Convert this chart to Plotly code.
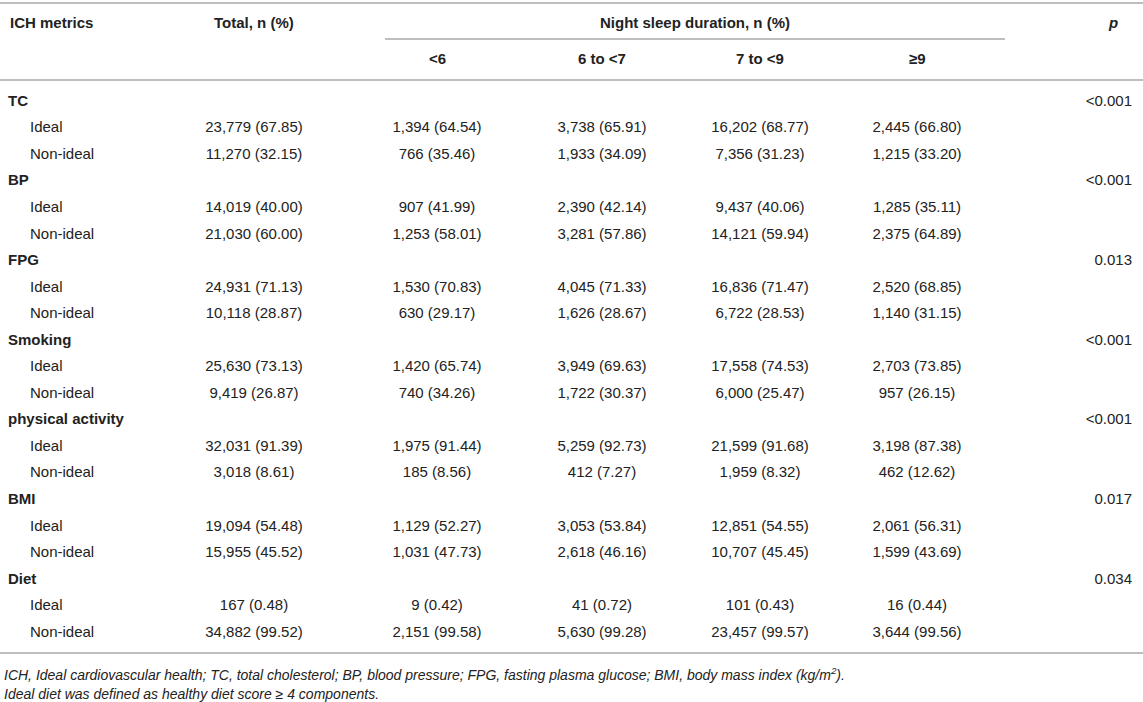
import plotly.graph_objects as go

# Table values (n, %)
metrics = ["TC", "BP", "FPG", "Smoking", "physical activity", "BMI", "Diet"]
p_values = ["<0.001", "<0.001", "0.013", "<0.001", "<0.001", "0.017", "0.034"]
levels = ["Ideal", "Non-ideal"]

total_n = [23779, 11270, 14019, 21030, 24931, 10118, 25630, 9419, 32031, 3018, 19094, 15955, 167, 34882]
total_pct = [67.85, 32.15, 40.00, 60.00, 71.13, 28.87, 73.13, 26.87, 91.39, 8.61, 54.48, 45.52, 0.48, 99.52]

lt6_n = [1394, 766, 907, 1253, 1530, 630, 1420, 740, 1975, 185, 1129, 1031, 9, 2151]
lt6_pct = [64.54, 35.46, 41.99, 58.01, 70.83, 29.17, 65.74, 34.26, 91.44, 8.56, 52.27, 47.73, 0.42, 99.58]

s6to7_n = [3738, 1933, 2390, 3281, 4045, 1626, 3949, 1722, 5259, 412, 3053, 2618, 41, 5630]
s6to7_pct = [65.91, 34.09, 42.14, 57.86, 71.33, 28.67, 69.63, 30.37, 92.73, 7.27, 53.84, 46.16, 0.72, 99.28]

s7to9_n = [16202, 7356, 9437, 14121, 16836, 6722, 17558, 6000, 21599, 1959, 12851, 10707, 101, 23457]
s7to9_pct = [68.77, 31.23, 40.06, 59.94, 71.47, 28.53, 74.53, 25.47, 91.68, 8.32, 54.55, 45.45, 0.43, 99.57]

ge9_n = [2445, 1215, 1285, 2375, 2520, 1140, 2703, 957, 3198, 462, 2061, 1599, 16, 3644]
ge9_pct = [66.80, 33.20, 35.11, 64.89, 68.85, 31.15, 73.85, 26.15, 87.38, 12.62, 56.31, 43.69, 0.44, 99.56]

sleep_groups = ["<6", "6 to <7", "7 to <9", "≥9"]

footnotes = [
    "ICH, Ideal cardiovascular health; TC, total cholesterol; BP, blood pressure; FPG, fasting plasma glucose; BMI, body mass index (kg/m<sup>2</sup>).",
    "Ideal diet was defined as healthy diet score ≥ 4 components.",
]

FONT = "Liberation Sans, Arial, Helvetica, sans-serif"
TXT = "#222222"
LINE = "#a8a8a8"

# layout positions (pixels)
first_row_y = 102
row_h = 26.55
col_x = [254, 437, 602, 760, 917]
p_x = 1132


def cell(n, p):
    return "{:,} ({:.2f})".format(n, p)


# Row y positions: one group row followed by its two level rows
group_y = []
level_y = []
for i, m in enumerate(metrics):
    gy = first_row_y + row_h * 3 * i
    group_y.append(gy)
    level_y += [gy + row_h, gy + 2 * row_h]

fig = go.Figure()
body = dict(family=FONT, size=15, color=TXT)

# Group labels (bold)
fig.add_trace(go.Scatter(
    x=[8] * len(metrics), y=group_y, mode="text",
    text=["<b>" + m + "</b>" for m in metrics],
    textposition="middle right", textfont=body,
    hoverinfo="skip", showlegend=False))

# Level labels (indented)
fig.add_trace(go.Scatter(
    x=[30] * len(level_y), y=level_y, mode="text",
    text=levels * len(metrics),
    textposition="middle right", textfont=body,
    hoverinfo="skip", showlegend=False))

# p values
fig.add_trace(go.Scatter(
    x=[p_x] * len(metrics), y=group_y, mode="text",
    text=p_values,
    textposition="middle left", textfont=body,
    hoverinfo="skip", showlegend=False))

# Numeric columns
columns = [(total_n, total_pct), (lt6_n, lt6_pct), (s6to7_n, s6to7_pct),
           (s7to9_n, s7to9_pct), (ge9_n, ge9_pct)]
for cx, (ns, ps) in zip(col_x, columns):
    fig.add_trace(go.Scatter(
        x=[cx] * len(ns), y=level_y, mode="text",
        text=[cell(n, p) for n, p in zip(ns, ps)],
        textposition="middle center", textfont=body,
        hoverinfo="skip", showlegend=False))

# Header rows
fig.add_annotation(x=8, y=22, text="<b>ICH metrics</b>", xanchor="left", showarrow=False, font=body)
fig.add_annotation(x=col_x[0], y=22, text="<b>Total, n (%)</b>", showarrow=False, font=body)
fig.add_annotation(x=695, y=22, text="<b>Night sleep duration, n (%)</b>", showarrow=False, font=body)
fig.add_annotation(x=1113, y=22, text="<b><i>p</i></b>", showarrow=False, font=body)
for cx, g in zip(col_x[1:], sleep_groups):
    fig.add_annotation(x=cx, y=58, text="<b>" + g + "</b>", showarrow=False, font=body)

# Footnotes
for k, t in enumerate(footnotes):
    fig.add_annotation(x=2, y=674 + 20 * k, text="<i>" + t + "</i>", xanchor="left",
                       showarrow=False, font=dict(family=FONT, size=14, color=TXT))

# Rules
for y0, xa, xb in [(3, 0, 1143), (39, 385, 1005), (80, 0, 1143), (653, 0, 1143)]:
    fig.add_shape(type="line", x0=xa, x1=xb, y0=y0, y1=y0, line=dict(color=LINE, width=1.6))

fig.update_layout(
    width=1143, height=702,
    margin=dict(l=0, r=0, t=0, b=0),
    paper_bgcolor="white", plot_bgcolor="white",
    xaxis=dict(range=[0, 1143], visible=False, fixedrange=True),
    yaxis=dict(range=[702, 0], visible=False, fixedrange=True),
)

# drop the default page margin so the figure sits at the window's corner
fig.write_html("out.html", config={"displayModeBar": False},
               post_script="document.body.style.margin='0';")
